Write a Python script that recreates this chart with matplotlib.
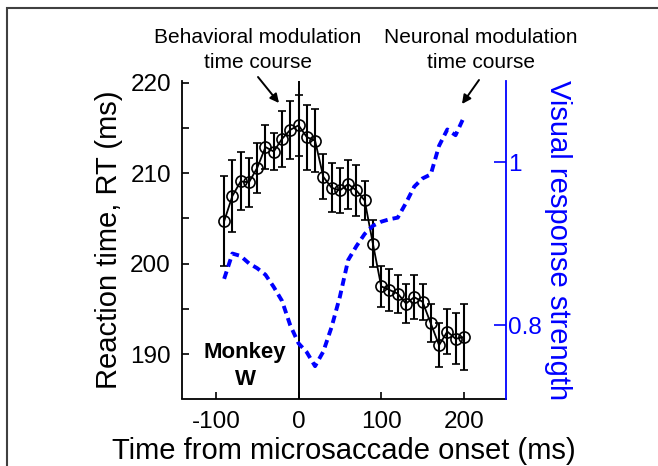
import matplotlib
matplotlib.use("Agg")
import matplotlib.pyplot as plt
from matplotlib.patches import Rectangle

plt.rcParams['font.family'] = ['Liberation Sans', 'DejaVu Sans']
plt.rcParams['axes.unicode_minus'] = False

# time bins (ms from microsaccade onset)
time_ms = [-90, -80, -70, -60, -50, -40, -30, -20, -10, 0,
           10, 20, 30, 40, 50, 60, 70, 80, 90, 100,
           110, 120, 130, 140, 150, 160, 170, 180, 190, 200]

# behavioral reaction time (ms) and error
rt = [204.7, 207.5, 209.1, 209.0, 210.6, 212.9, 212.4, 213.8, 214.8, 215.3,
      214.0, 213.6, 209.6, 208.4, 208.1, 208.8, 208.1, 207.0, 202.2, 197.5,
      197.1, 196.7, 195.6, 196.3, 195.8, 193.4, 191.0, 192.5, 191.7, 191.9]
rt_err = [5.0, 4.0, 3.2, 2.7, 2.8, 2.4, 2.0, 3.1, 3.2, 3.4,
          3.6, 3.5, 2.5, 2.7, 2.5, 2.7, 2.8, 2.2, 2.6, 2.3,
          2.3, 2.1, 2.2, 2.4, 2.0, 2.1, 2.4, 2.5, 2.8, 3.6]

# neuronal visual response strength
visual = [0.857, 0.888, 0.885, 0.876, 0.870, 0.862, 0.847, 0.830, 0.800, 0.778,
          0.767, 0.750, 0.768, 0.798, 0.835, 0.880, 0.897, 0.912, 0.922, 0.927,
          0.930, 0.932, 0.950, 0.970, 0.980, 0.985, 1.020, 1.040, 1.033, 1.055]

W, H = 658, 466
fig = plt.figure(figsize=(W / 100, H / 100), dpi=100)
ax = fig.add_axes([182 / W, 1 - 398.5 / H, (506 - 182) / W, (398.5 - 81) / H])

# reaction time with error bars
ax.errorbar(time_ms, rt, yerr=rt_err, color='black', lw=1.3, elinewidth=1.5,
            capsize=3, capthick=1.3, marker='o', ms=8, mfc='none',
            mec='black', mew=1.2, zorder=3)
ax.axvline(0, color='black', lw=1.4, zorder=2)

ax.set_xlim(-141, 251)
ax.set_ylim(185.1, 220.2)
ax.set_xticks([-100, 0, 100, 200])
ax.set_yticks([190, 195, 200, 205, 210, 215, 220])
ax.set_yticklabels(['190', '', '200', '', '210', '', '220'])
ax.tick_params(axis='both', direction='in', length=5, width=1.2,
               labelsize=17.5, pad=8)
ax.tick_params(axis='x', pad=9)
ax.spines['top'].set_visible(False)
ax.spines['right'].set_visible(False)
ax.spines['left'].set_linewidth(1.3)
ax.spines['bottom'].set_linewidth(1.3)
ax.set_xlabel('Time from microsaccade onset (ms)', fontsize=21, labelpad=3)
ax.set_ylabel('Reaction time, RT (ms)', fontsize=21, labelpad=5)

# neuronal modulation on right axis
ax2 = ax.twinx()
ax2.plot(time_ms, visual, color='#0000ff', lw=2.8, ls=(0, (2.0, 1.3)))
ax2.set_ylim(0.7104, 1.0994)
ax2.set_yticks([0.8, 1.0])
ax2.set_yticklabels(['0.8', '1'])
ax2.tick_params(axis='y', direction='in', length=9, width=1.2, labelsize=17.5,
                colors='#0000ff', pad=1.5)
for s in ['top', 'left', 'bottom']:
    ax2.spines[s].set_visible(False)
ax2.spines['right'].set_color('#0000ff')
ax2.spines['right'].set_linewidth(1.3)
ax2.set_ylabel('Visual response strength', fontsize=21, color='#0000ff',
               rotation=-90, labelpad=22)

# annotations
fig.text(258 / W, 1 - 50 / H, 'Behavioral modulation\ntime course', ha='center',
         va='center', fontsize=15, linespacing=1.4)
fig.text(481 / W, 1 - 50 / H, 'Neuronal modulation\ntime course', ha='center',
         va='center', fontsize=15, linespacing=1.4)
arrow = dict(arrowstyle='-|>', color='black', lw=1.4, mutation_scale=13,
             shrinkA=0, shrinkB=0)
ax.annotate('', xy=(279 / W, 1 - 103 / H), xytext=(258 / W, 1 - 77 / H),
            xycoords='figure fraction', textcoords='figure fraction',
            arrowprops=arrow)
ax.annotate('', xy=(462 / W, 1 - 104 / H), xytext=(479 / W, 1 - 80 / H),
            xycoords='figure fraction', textcoords='figure fraction',
            arrowprops=arrow)
fig.text(245 / W, 1 - 366 / H, 'Monkey\nW', ha='center', va='center',
         fontsize=16, fontweight='bold', linespacing=1.35)

# frame around the figure panel
fig.add_artist(Rectangle((7 / W, -0.1), 1.2, 1.1 - 8 / H, transform=fig.transFigure,
                         fill=False, edgecolor='#404040', lw=1.5))

fig.savefig('out.png', dpi=100)
